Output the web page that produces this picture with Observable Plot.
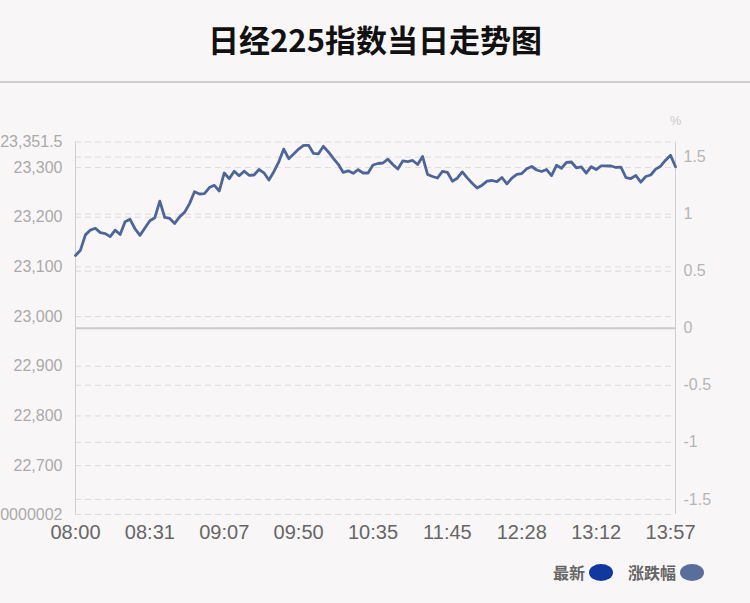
<!DOCTYPE html>
<html>
<head>
<meta charset="utf-8">
<script src="https://cdn.jsdelivr.net/npm/d3@7"></script>
<script src="https://cdn.jsdelivr.net/npm/@observablehq/plot@0.6"></script>
<style>
  html, body { margin: 0; padding: 0; background: #f9f6f7; width: 750px; height: 603px; overflow: hidden; }
  #title { height: 77px; padding-bottom: 4px; border-bottom: 2px solid #cfcfcf; box-sizing: content-box;
    display: flex; align-items: center; justify-content: center;
    font-family: "Noto Sans CJK SC", "Noto Sans", sans-serif; font-weight: bold; font-size: 31px; color: #111; }
  #chart { position: relative; }
  #legend { position: absolute; left: 553px; top: 560px; display: flex; align-items: center;
    font-family: "Noto Sans CJK SC", sans-serif; font-weight: bold; font-size: 16px; color: #666; }
  .sw { display: inline-block; width: 24px; height: 17px; border-radius: 50%; margin-left: 4px; margin-right: 15px; }
</style>
</head>
<body>
<div id="title">日经225指数当日走势图</div>
<div id="chart"></div>
<div id="legend"><span>最新</span><span class="sw" style="background:#1238a0"></span><span>涨跌幅</span><span class="sw" style="background:#5a6e9b"></span></div>
<script>
const timeLabels = ["08:00","08:31","09:07","09:50","10:35","11:45","12:28","13:12","13:57"];
const timeLabelIndex = [0,15,30,45,60,75,90,105,120];
const prevClose = 22976.5;
const priceTicks = [23351.5, 23300, 23200, 23100, 23000, 22900, 22800, 22700, 22601.5];
const priceTickLabels = ["23,351.5", "23,300", "23,200", "23,100", "23,000", "22,900", "22,800", "22,700", "22,601.500000000002"];
const pctTicks = [1.5, 1, 0.5, 0, -0.5, -1, -1.5];
const prices = [
  23123.0, 23133.7, 23164.5, 23174.2, 23177.8, 23169.1, 23167.1, 23160.9, 23174.0, 23165.3,
  23190.9, 23195.9, 23176.8, 23163.5, 23178.4, 23192.9, 23199.1, 23232.3, 23199.5, 23197.5,
  23187.6, 23200.7, 23210.0, 23227.5, 23251.3, 23246.8, 23247.4, 23259.7, 23264.3, 23252.9,
  23289.1, 23277.6, 23292.7, 23283.5, 23292.7, 23284.5, 23285.1, 23296.1, 23289.5, 23275.0,
  23291.7, 23311.6, 23337.2, 23317.9, 23327.3, 23337.2, 23344.9, 23344.9, 23328.4, 23327.7,
  23342.8, 23331.4, 23318.7, 23306.6, 23290.3, 23293.5, 23288.5, 23295.7, 23289.1, 23289.1,
  23305.2, 23308.2, 23309.2, 23316.9, 23306.2, 23297.1, 23313.3, 23312.2, 23314.3, 23306.2,
  23322.3, 23286.1, 23282.1, 23279.0, 23292.5, 23290.5, 23272.6, 23278.6, 23291.3, 23279.2,
  23268.4, 23258.9, 23264.5, 23272.6, 23274.0, 23271.6, 23280.0, 23267.0, 23278.8, 23286.1,
  23287.9, 23297.6, 23302.2, 23295.1, 23292.1, 23296.1, 23283.7, 23304.6, 23298.6, 23310.2,
  23311.2, 23299.6, 23301.2, 23288.7, 23301.8, 23296.1, 23303.6, 23303.6, 23303.2, 23300.2,
  23301.0, 23280.0, 23278.0, 23284.1, 23270.6, 23282.1, 23285.1, 23296.9, 23302.8, 23314.9,
  23324.9, 23301.6
];

const pctY = pctTicks.map(p => prevClose * (1 + p / 100));
const dashed = {stroke: "#dcdcdc", strokeDasharray: "6,4", strokeWidth: 1};
const n = prices.length;

const chart = Plot.plot({
  width: 750,
  height: 460,
  marginLeft: 75,
  marginRight: 75,
  marginTop: 58.5,
  marginBottom: 29,
  style: {background: "transparent", fontFamily: "'Liberation Sans', Arial, sans-serif", overflow: "visible"},
  x: {domain: [0, n - 1]},
  y: {domain: [priceTicks[priceTicks.length - 1], priceTicks[0]]},
  marks: [
    Plot.ruleY(priceTicks, dashed),
    Plot.ruleY(pctY, dashed),
    Plot.ruleY([prevClose], {stroke: "#cccccc", strokeWidth: 2}),
    Plot.ruleX([0, n - 1], {stroke: "#cfcfcf", strokeWidth: 1}),
    Plot.axisY(priceTicks, {anchor: "left", tickSize: 0, tickPadding: 13, fontSize: 16, fill: "#aaaaaa",
      tickFormat: v => priceTickLabels[priceTicks.indexOf(v)], label: null}),
    Plot.axisY(pctY, {anchor: "right", tickSize: 0, tickPadding: 8, fontSize: 16, fill: "#b5b5b5",
      tickFormat: v => String(pctTicks[pctY.indexOf(v)]), label: null}),
    Plot.axisX(timeLabelIndex, {anchor: "bottom", tickSize: 0, tickPadding: 10, fontSize: 20, fill: "#666666",
      tickFormat: i => timeLabels[timeLabelIndex.indexOf(i)], label: null}),
    Plot.line(prices, {x: (d, i) => i, y: d => d, stroke: "#4d6598", strokeWidth: 2.8, strokeLinejoin: "round"}),
    Plot.text(["%"], {frameAnchor: "top-right", textAnchor: "middle", lineAnchor: "middle", dy: -21.5,
      fontSize: 13, fill: "#cccccc"})
  ]
});
document.getElementById("chart").appendChild(chart);
</script>
</body>
</html>
